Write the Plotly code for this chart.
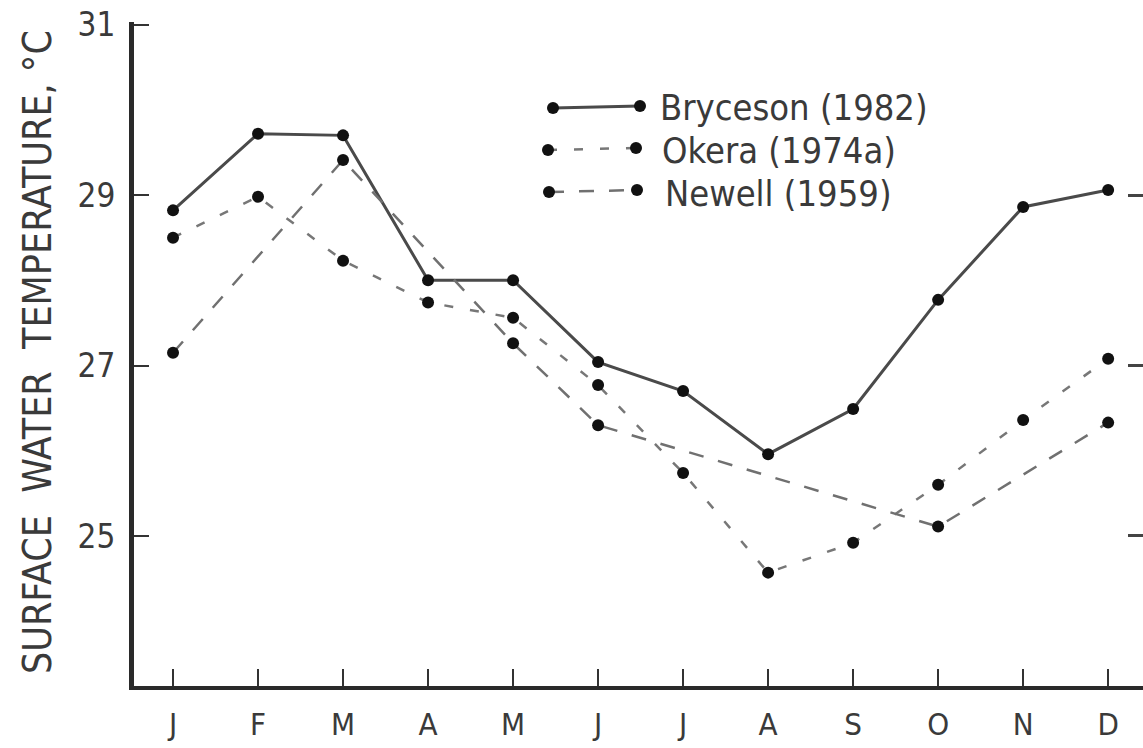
import plotly.graph_objects as go

months = [1, 2, 3, 4, 5, 6, 7, 8, 9, 10, 11, 12]
month_labels = ["J", "F", "M", "A", "M", "J", "J", "A", "S", "O", "N", "D"]

bryceson = [28.82, 29.72, 29.70, 28.00, 28.00, 27.04, 26.70, 25.96, 26.49, 27.77, 28.86, 29.06]
okera = [28.50, 28.98, 28.23, 27.74, 27.56, 26.77, 25.74, 24.57, 24.92, 25.60, 26.36, 27.08]
newell = [27.15, None, 29.41, None, 27.26, 26.30, None, None, None, 25.11, None, 26.33]

y_ticks = [25, 27, 29, 31]

names = ["Bryceson (1982)", "Okera (1974a)", "Newell (1959)"]
dashes = ["solid", "9px,17px", "15px,15px"]
line_colors = ["#4a4a4a", "#777777", "#707070"]
line_widths = [3, 2.5, 2.5]

FONT = "Liberation Sans Narrow, DejaVu Sans Condensed, DejaVu Sans, sans-serif"
TXT = "#3a3a3a"

W, H = 1143, 748

fig = go.Figure()
for name, vals, dsh, col, lw in zip(names, [bryceson, okera, newell], dashes, line_colors, line_widths):
    fig.add_trace(go.Scatter(
        x=months, y=vals, name=name, mode="lines+markers",
        connectgaps=True,
        line=dict(color=col, width=lw, dash=dsh),
        marker=dict(color="#111111", size=12),
        showlegend=False,
    ))
# carrier for the right-hand tick axis (draws nothing)
fig.add_trace(go.Scatter(x=months, y=bryceson, mode="none", yaxis="y2",
                         showlegend=False, hoverinfo="skip"))

Y_RANGE = [23.24, 31.03]

# plot-area geometry in pixels
L, R, T, B = 134, 1143, 22, 686
def px(xp):
    return (xp - L) / (R - L)
def py(yp):
    return (B - yp) / (B - T)

legend_rows = [
    (553, 108, 640, 106, 658, 108),
    (548, 150, 636, 148, 660, 151),
    (549, 192, 637, 190, 663, 193),
]
shapes = []
annotations = []
for (x0, y0, x1, y1, tx, ty), name, dsh, col, lw in zip(legend_rows, names, dashes, line_colors, line_widths):
    shapes.append(dict(type="line", xref="paper", yref="paper",
                       x0=px(x0), y0=py(y0), x1=px(x1), y1=py(y1),
                       line=dict(color=col, width=lw, dash=dsh)))
    for (cx, cy) in [(x0, y0), (x1, y1)]:
        shapes.append(dict(type="circle", xref="paper", yref="paper",
                           xsizemode="pixel", ysizemode="pixel",
                           xanchor=px(cx), yanchor=py(cy),
                           x0=-6, x1=6, y0=-6, y1=6,
                           fillcolor="#111111", line=dict(width=0)))
    annotations.append(dict(text=name, xref="paper", yref="paper",
                            x=px(tx), y=py(ty), xanchor="left", yanchor="middle",
                            showarrow=False, font=dict(family=FONT, size=36, color=TXT)))

annotations.append(dict(text="SURFACE  WATER  TEMPERATURE, °C", xref="paper", yref="paper",
                        x=px(37), y=py(352), xanchor="center", yanchor="middle",
                        textangle=-90, showarrow=False,
                        font=dict(family=FONT, size=39, color=TXT)))

fig.update_layout(
    width=W, height=H,
    margin=dict(l=L, r=W - R, t=T, b=H - B),
    paper_bgcolor="white", plot_bgcolor="white",
    shapes=shapes, annotations=annotations,
    xaxis=dict(
        range=[0.541, 12.41], tickvals=months, ticktext=month_labels,
        showline=True, linecolor="#2a2a2a", linewidth=4,
        ticks="inside", ticklen=17, tickwidth=2, tickcolor="#333333",
        showgrid=False, zeroline=False,
        tickfont=dict(family=FONT, size=31, color=TXT),
        ticklabelstandoff=8,
    ),
    yaxis=dict(
        range=Y_RANGE, tickvals=y_ticks,
        showline=True, linecolor="#2a2a2a", linewidth=5,
        ticks="inside", ticklen=15, tickwidth=2, tickcolor="#333333",
        showgrid=False, zeroline=False,
        tickfont=dict(family=FONT, size=33, color=TXT),
        ticklabelstandoff=7,
    ),
    yaxis2=dict(
        range=Y_RANGE, tickvals=[25, 27, 29], overlaying="y", side="right",
        showline=False, showgrid=False, zeroline=False,
        ticks="inside", ticklen=15, tickwidth=3, tickcolor="#444444",
        showticklabels=False,
    ),
)

fig.write_html("out.html",
               config={"displayModeBar": False},
               post_script="document.body.style.margin='0';document.body.style.overflow='hidden';")
